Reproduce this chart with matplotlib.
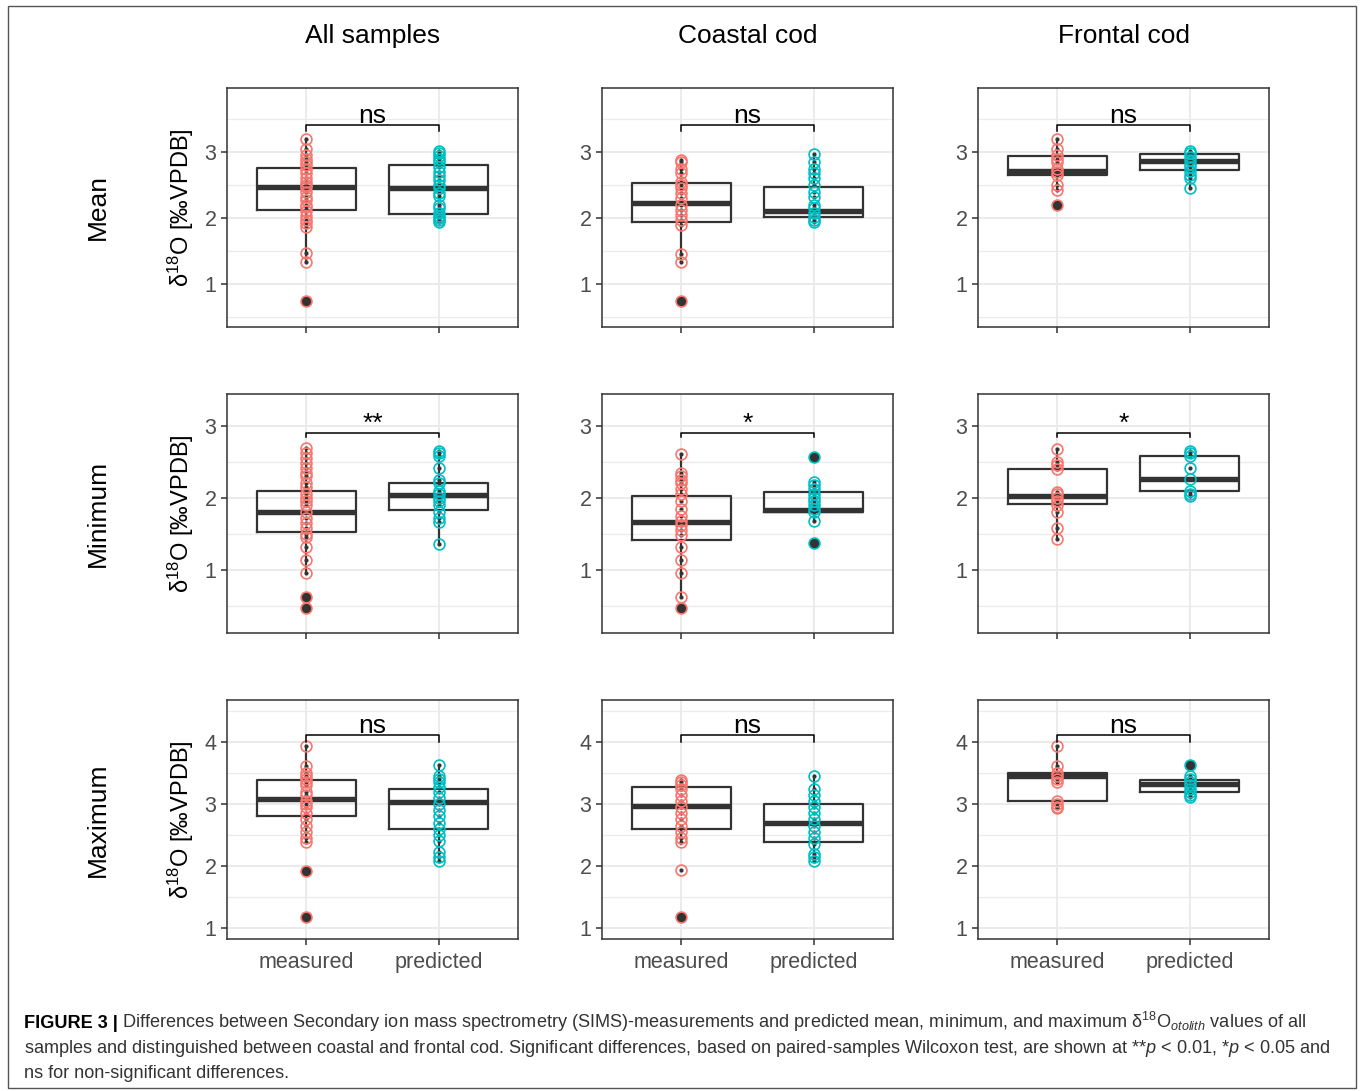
import matplotlib
matplotlib.use('Agg')
import matplotlib.pyplot as plt
from matplotlib.patches import Rectangle

plt.rcParams['font.family'] = ['Liberation Sans', 'DejaVu Sans']
plt.rcParams['mathtext.fontset'] = 'custom'
plt.rcParams['mathtext.rm'] = 'Liberation Sans'
plt.rcParams['mathtext.it'] = 'Liberation Sans:italic'
plt.rcParams['mathtext.bf'] = 'Liberation Sans:bold'

row_names = ['Mean', 'Minimum', 'Maximum']
col_names = ['All samples', 'Coastal cod', 'Frontal cod']
groups = ['measured', 'predicted']
grp_colors = ['#F8766D', '#00BFC4']

# ---- individual values (measured / predicted) ----
mean_all_meas = [3.19, 3.05, 2.95, 2.9, 2.85, 2.8, 2.75, 2.68, 2.6, 2.55, 2.5, 2.47, 2.4, 2.32, 2.27,
                 2.2, 2.17, 2.1, 2.03, 1.97, 1.92, 1.87, 1.47, 1.34, 0.74]
mean_all_pred = [3.02, 2.98, 2.94, 2.9, 2.85, 2.78, 2.7, 2.64, 2.58, 2.5, 2.45, 2.38, 2.33, 2.2,
                 2.15, 2.08, 2.03, 2.0, 1.97, 1.94]
mean_coast_meas = [2.88, 2.85, 2.75, 2.68, 2.55, 2.5, 2.45, 2.38, 2.3, 2.2, 2.12, 2.05, 1.97, 1.9,
                   1.45, 1.34, 0.74]
mean_coast_pred = [2.97, 2.85, 2.75, 2.68, 2.6, 2.5, 2.4, 2.32, 2.2, 2.15, 2.07, 2.02, 1.97, 1.94]
mean_front_meas = [3.19, 3.05, 2.95, 2.9, 2.85, 2.75, 2.7, 2.65, 2.5, 2.43, 2.2]
mean_front_pred = [3.02, 2.98, 2.93, 2.88, 2.82, 2.78, 2.72, 2.65, 2.6, 2.45]

min_all_meas = [2.69, 2.62, 2.55, 2.48, 2.42, 2.35, 2.3, 2.2, 2.15, 2.05, 2.0, 1.95, 1.9, 1.8, 1.72,
                1.65, 1.58, 1.5, 1.45, 1.32, 1.14, 0.96, 0.62, 0.47]
min_all_pred = [2.65, 2.62, 2.58, 2.41, 2.25, 2.2, 2.1, 2.05, 2.0, 1.95, 1.9, 1.8, 1.72, 1.67, 1.36]
min_coast_meas = [2.61, 2.35, 2.3, 2.25, 2.2, 2.12, 2.05, 1.95, 1.85, 1.75, 1.68, 1.62, 1.55, 1.48,
                  1.32, 1.14, 0.96, 0.63, 0.47]
min_coast_pred = [2.57, 2.22, 2.18, 2.12, 2.05, 2.0, 1.95, 1.9, 1.85, 1.8, 1.68, 1.37]
min_front_meas = [2.68, 2.5, 2.45, 2.4, 2.08, 2.05, 2.0, 1.95, 1.9, 1.8, 1.58, 1.43]
min_front_pred = [2.65, 2.62, 2.58, 2.42, 2.26, 2.1, 2.05, 2.02]

max_all_meas = [3.93, 3.62, 3.5, 3.45, 3.4, 3.35, 3.3, 3.2, 3.15, 3.05, 3.0, 2.95, 2.85, 2.75, 2.65,
                2.55, 2.45, 2.38, 1.92, 1.18]
max_all_pred = [3.63, 3.45, 3.4, 3.35, 3.28, 3.2, 3.1, 3.0, 2.9, 2.8, 2.7, 2.6, 2.5, 2.4, 2.22,
                2.15, 2.08]
max_coast_meas = [3.38, 3.35, 3.3, 3.25, 3.15, 3.05, 2.95, 2.85, 2.75, 2.65, 2.55, 2.45, 2.38,
                  1.93, 1.18]
max_coast_pred = [3.45, 3.25, 3.15, 3.05, 2.95, 2.85, 2.75, 2.65, 2.55, 2.45, 2.35, 2.2, 2.15, 2.08]
max_front_meas = [3.93, 3.62, 3.5, 3.45, 3.4, 3.35, 3.05, 3.0, 2.95, 2.93]
max_front_pred = [3.63, 3.45, 3.4, 3.35, 3.3, 3.25, 3.2, 3.15, 3.12]

# ---- box statistics [q1, median, q3, whisker low, whisker high] ----
stats_mean = [[2.12, 2.47, 2.76, 1.34, 3.19], [2.06, 2.45, 2.80, 1.94, 3.02],
              [1.94, 2.23, 2.53, 1.34, 2.88], [2.02, 2.10, 2.47, 1.94, 2.97],
              [2.65, 2.72, 2.94, 2.43, 3.19], [2.73, 2.87, 2.97, 2.45, 3.02]]
stats_min = [[1.52, 1.81, 2.09, 0.96, 2.69], [1.83, 2.04, 2.20, 1.36, 2.65],
             [1.41, 1.67, 2.02, 0.63, 2.61], [1.80, 1.83, 2.08, 1.68, 2.22],
             [1.91, 2.02, 2.40, 1.43, 2.68], [2.09, 2.26, 2.58, 2.02, 2.65]]
stats_max = [[2.81, 3.08, 3.38, 2.38, 3.93], [2.60, 3.04, 3.24, 2.08, 3.63],
             [2.60, 2.97, 3.27, 2.35, 3.38], [2.39, 2.70, 3.00, 2.08, 3.45],
             [3.05, 3.45, 3.50, 2.93, 3.93], [3.20, 3.32, 3.38, 3.12, 3.45]]

# boxplot outliers (black filled)
fliers_mean = [[0.74], [], [0.74], [], [2.2], []]
fliers_min = [[0.62, 0.47], [], [0.47], [2.57, 1.37], [], []]
fliers_max = [[1.92, 1.18], [], [1.18], [], [], [3.63]]

sig_mean = ['ns', 'ns', 'ns']
sig_min = ['**', '*', '*']
sig_max = ['ns', 'ns', 'ns']

points_rows = [
    [mean_all_meas, mean_all_pred, mean_coast_meas, mean_coast_pred, mean_front_meas, mean_front_pred],
    [min_all_meas, min_all_pred, min_coast_meas, min_coast_pred, min_front_meas, min_front_pred],
    [max_all_meas, max_all_pred, max_coast_meas, max_coast_pred, max_front_meas, max_front_pred],
]
stats_rows = [stats_mean, stats_min, stats_max]
fliers_rows = [fliers_mean, fliers_min, fliers_max]
sig_rows = [sig_mean, sig_min, sig_max]

# layout (pixels)
W, H = 1360, 1091
col_left = [227, 602, 978]
row_top = [88, 394, 700]
pw, ph = 291, 239
ylims = [(0.35, 3.97), (0.125, 3.44), (0.82, 4.68)]
yticks = [[1, 2, 3], [1, 2, 3], [1, 2, 3, 4]]
yminor = [[0.5, 1.5, 2.5, 3.5], [0.5, 1.5, 2.5], [1.5, 2.5, 3.5, 4.5]]
bracket_y = [3.41, 2.90, 4.11]
bracket_tip = [0.09, 0.06, 0.11]
dark = '#333333'

fig = plt.figure(figsize=(W / 100, H / 100), dpi=100)
fig.patches.append(Rectangle((8 / W, 1 - 1088 / H), 1348 / W, 1082 / H, transform=fig.transFigure,
                             fill=False, edgecolor='#555555', lw=1.0))

for r in range(3):
    for c in range(3):
        ax = fig.add_axes([col_left[c] / W, 1 - (row_top[r] + ph) / H, pw / W, ph / H])

        for g in range(2):
            k = c * 2 + g
            q1, med, q3, lo, hi = stats_rows[r][k]
            ax.bxp([{'med': med, 'q1': q1, 'q3': q3, 'whislo': lo, 'whishi': hi, 'fliers': []}],
                   positions=[g + 1], widths=0.75, showfliers=False, showcaps=False,
                   manage_ticks=False,
                   boxprops=dict(color=dark, lw=1.6),
                   whiskerprops=dict(color=dark, lw=1.6),
                   medianprops=dict(color=dark, lw=3.9, solid_capstyle='butt'))
            fl = fliers_rows[r][k]
            if fl:
                ax.plot([g + 1] * len(fl), fl, 'o', color=dark, ms=6.5, zorder=3)
            vals = points_rows[r][k]
            ax.plot([g + 1] * len(vals), vals, 'o', color=dark, ms=2.0, zorder=4)
            ax.plot([g + 1] * len(vals), vals, 'o', mfc='none', mec=grp_colors[g], ms=7.8, mew=1.2,
                    zorder=5)

        ax.set_xlim(0.4, 2.6)
        ax.set_ylim(*ylims[r])
        ax.set_yticks(yticks[r])
        ax.set_yticks(yminor[r], minor=True)
        ax.set_xticks([1, 2])
        if r == 2:
            ax.set_xticklabels(groups)
        else:
            ax.set_xticklabels([])
        ax.set_axisbelow(True)
        ax.grid(which='major', color='#EBEBEB', lw=1.4)
        ax.grid(which='minor', axis='y', color='#EBEBEB', lw=0.9)
        ax.tick_params(which='major', length=4.5, width=1.1, color=dark, labelcolor='#4D4D4D',
                       labelsize=15.5, pad=3)
        ax.tick_params(axis='x', pad=5)
        ax.tick_params(which='minor', length=0)
        for sp in ax.spines.values():
            sp.set_color(dark)
            sp.set_linewidth(1.1)

        # significance bracket
        by = bracket_y[r]
        ax.plot([1, 1, 2, 2], [by - bracket_tip[r], by, by, by - bracket_tip[r]], color='black',
                lw=1.1, zorder=6)
        ax.text(1.5, by + 0.035 * (ylims[r][1] - ylims[r][0]) / 3.6, sig_rows[r][c], ha='center',
                va='baseline', fontsize=19, color='black')

        if c == 0:
            ax.set_ylabel('δ$^{18}$O [‰VPDB]', fontsize=17, labelpad=6)

    fig.text(98 / W, 1 - (row_top[r] + ph / 2) / H, row_names[r], rotation=90, ha='center',
             va='center', fontsize=19)

for c in range(3):
    fig.text((col_left[c] + pw / 2) / W, 1 - 36 / H, col_names[c], ha='center', va='center',
             fontsize=19)

# caption
renderer = fig.canvas.get_renderer()
cap_size = 13.05
t1 = fig.text(24 / W, 1 - 1028 / H, 'FIGURE 3 |', fontsize=cap_size, fontweight='bold', va='baseline')
w1 = t1.get_window_extent(renderer).width
fig.text((24 + w1 + 4) / W, 1 - 1028 / H,
         'Differences between Secondary ion mass spectrometry (SIMS)-measurements and predicted mean, '
         'minimum, and maximum δ$^{18}$O$_{otolith}$ values of all',
         fontsize=cap_size, va='baseline', color='#333333')
fig.text(24 / W, 1 - 1053 / H,
         'samples and distinguished between coastal and frontal cod. Significant differences, based on '
         'paired-samples Wilcoxon test, are shown at **$p$ < 0.01, *$p$ < 0.05 and',
         fontsize=cap_size, va='baseline', color='#333333')
fig.text(24 / W, 1 - 1078 / H, 'ns for non-significant differences.', fontsize=cap_size,
         va='baseline', color='#333333')

fig.savefig('out.png', dpi=100)
